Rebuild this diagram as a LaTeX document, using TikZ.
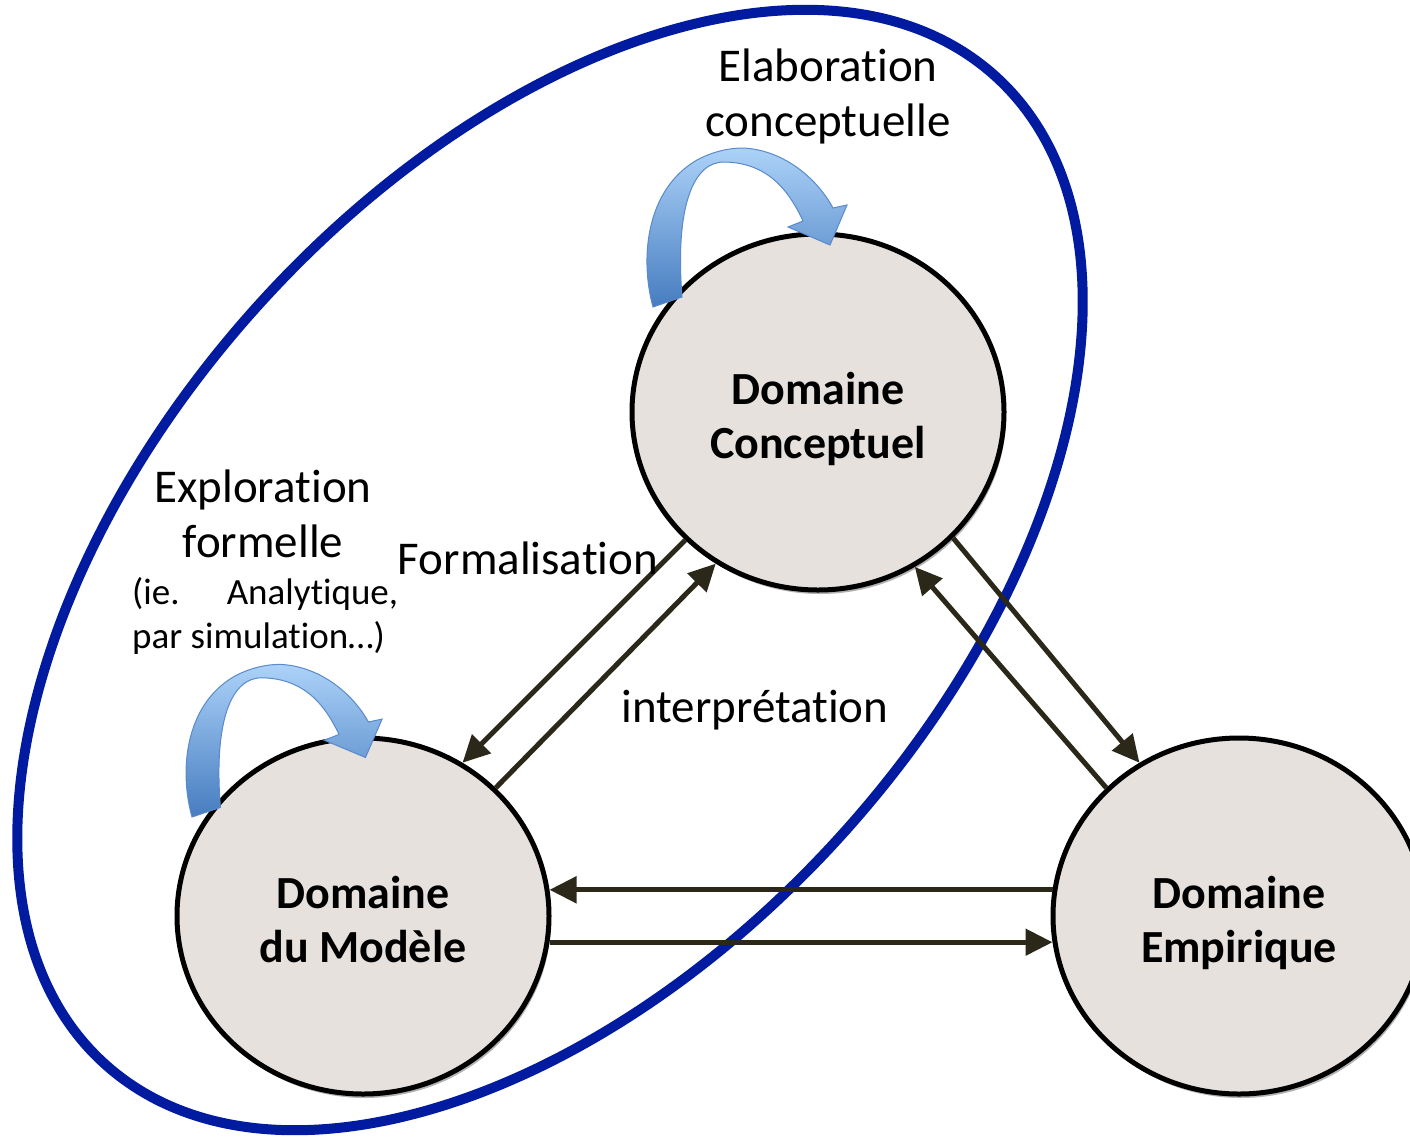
\documentclass[tikz,border=0pt]{standalone}
\usepackage{fontspec}
\setmainfont{Carlito}[Ligatures=NoCommon]
\usetikzlibrary{shapes.geometric,arrows.meta,shadows}
\definecolor{ellblue}{RGB}{0,26,160}
\definecolor{domfill}{RGB}{231,225,221}
\definecolor{arrcol}{RGB}{43,40,26}
\definecolor{cbtop}{RGB}{172,210,248}
\definecolor{cbbot}{RGB}{70,124,192}
\definecolor{cbdraw}{RGB}{88,138,204}
\newcommand{\topstrut}{\rule{0pt}{51pt}}
\newcommand{\botstrut}{\rule[-12pt]{0pt}{12pt}}
\begin{document}
\begin{tikzpicture}[x=1pt,y=-1pt,
  domnode/.style={ellipse, draw=black, line width=5pt, fill=domfill,
    minimum width=372pt, minimum height=356pt, inner sep=0pt, align=center,
    font=\fontsize{46}{54}\selectfont\bfseries,
    drop shadow={opacity=0.3, shadow xshift=2pt, shadow yshift=-4pt, fill=black}},
  lab/.style={align=center, font=\fontsize{47}{55}\selectfont, inner sep=0pt},
  conn/.style={draw=arrcol, line width=5pt, -{Triangle[length=27pt,width=26pt]}},
  curvarr/.style={top color=cbtop, bottom color=cbbot, draw=cbdraw, line width=1pt},
  pics/bentarrow/.style={code={
    \path[curvarr] (0,0) .. controls (-13,-47) and (-8,-117) .. (44,-147)
      .. controls (59,-155) and (75,-159) .. (90,-159)
      .. controls (132,-157) and (165,-127) .. (180,-99)
      -- (194,-102) -- (177,-62) -- (135,-80) -- (150,-86)
      .. controls (133,-123) and (110,-144) .. (72,-145)
      .. controls (40,-146) and (22,-100) .. (29,-10) -- cycle;
  }}
]
\useasboundingbox (0,0) rectangle (1410,1136);
\fill[white] (0,0) rectangle (1410,1136);

% enclosing blue ellipse
\draw[ellblue, line width=10pt, rotate around={48:(550,570)}]
  (550,570) ellipse [x radius=665, y radius=394];

% domains
\node[domnode] (C) at (818,412) {\topstrut Domaine\\Conceptuel\botstrut};
\node[domnode] (M) at (363,916) {\topstrut Domaine\\du Modèle\botstrut};
\node[domnode] (E) at (1239,916) {\topstrut Domaine\\Empirique\botstrut};

% connectors
\draw[conn] (C.224) -- (M.57);
\draw[conn] (M.44) -- (C.236);
\draw[conn] (C.317) -- (E.123);
\draw[conn] (E.136) -- (C.302.5);
\draw[conn] (E.172) -- (M.8);
\draw[conn] (M.352) -- (E.188);

% curved blue arrows
\pic at (653,307) {bentarrow};
\pic[xscale=0.98, yscale=0.96] at (192,817) {bentarrow};

% labels
\node[lab] (elab) at (828,96) {Elaboration\\conceptuelle};
\node[lab] (expl) at (263,514) {Exploration\\formelle};
\node[lab] (form) at (528,558) {Formalisation};
\node[lab] (interp) at (755,710) {interprétation};
\node[anchor=west, align=left, inner sep=0pt,
  font=\fontsize{37}{44}\selectfont] (ie) at (132,616)
  {\makebox[266pt][s]{(ie.\hfill Analytique,}\\par simulation…)};
\end{tikzpicture}
\end{document}
